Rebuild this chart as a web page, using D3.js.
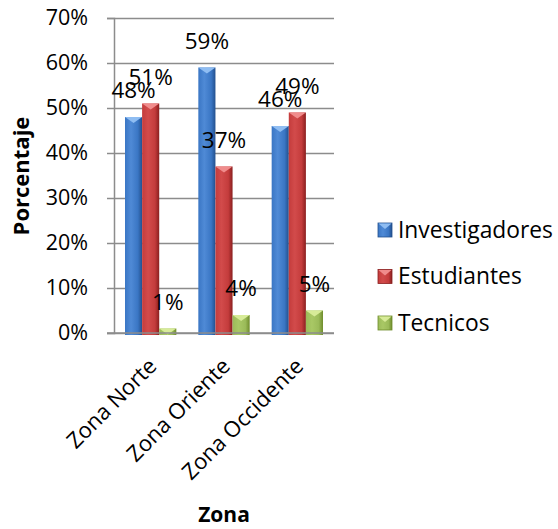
<!DOCTYPE html>
<html>
<head>
<meta charset="utf-8">
<script src="https://cdn.jsdelivr.net/npm/d3@7/dist/d3.min.js"></script>
<style>
  html, body { margin: 0; padding: 0; background: #ffffff; }
  svg { display: block; }
  text { font-family: "Open Sans", Carlito, Calibri, sans-serif; fill: #000; }
</style>
</head>
<body>
<script>
// Porcentaje por zona y tipo de participante
const zonas = ["Zona Norte", "Zona Oriente", "Zona Occidente"];
const series = ["Investigadores", "Estudiantes", "Tecnicos"];
const investigadores = [0.48, 0.59, 0.46];
const estudiantes = [0.51, 0.37, 0.49];
const tecnicos = [0.01, 0.04, 0.05];
const yTicks = [0, 0.1, 0.2, 0.3, 0.4, 0.5, 0.6, 0.7];

const valores = [investigadores, estudiantes, tecnicos];

const W = 558, H = 529;
const plot = { left: 114, right: 334, top: 18, bottom: 333 };
const FONT = "\"Open Sans\", Carlito, Calibri, sans-serif";

const svg = d3.select("body").append("svg").attr("width", W).attr("height", H);
const defs = svg.append("defs");

// Colores de cada serie: bordes oscuros, centro claro y tapa superior
const paleta = [
  { dark: "#23508e", mid: "#3a76c4", light: "#4f8ad6", cap: "#8fbdf2" },
  { dark: "#8a1f1f", mid: "#c43c3c", light: "#d24b4b", cap: "#f08c8c" },
  { dark: "#6f8c2c", mid: "#9bbb59", light: "#a9c865", cap: "#d7eb98" }
];
paleta.forEach((c, i) => {
  const g = defs.append("linearGradient").attr("id", "grad" + i)
    .attr("x1", "0%").attr("x2", "100%").attr("y1", "0%").attr("y2", "0%");
  g.append("stop").attr("offset", "0%").attr("stop-color", c.mid);
  g.append("stop").attr("offset", "35%").attr("stop-color", c.light);
  g.append("stop").attr("offset", "75%").attr("stop-color", c.mid);
  g.append("stop").attr("offset", "100%").attr("stop-color", c.dark);
});

const y = d3.scaleLinear().domain([0, 0.7]).range([plot.bottom, plot.top]);
const x0 = d3.scaleBand().domain(zonas).range([plot.left, plot.right])
  .paddingInner(0.3).paddingOuter(0.15);
const x1 = d3.scaleBand().domain(series).range([0, x0.bandwidth()]);

// Líneas de cuadrícula horizontales
svg.append("g")
  .attr("transform", `translate(${plot.left},0)`)
  .call(d3.axisLeft(y).tickValues(yTicks).tickSize(-(plot.right - plot.left)).tickFormat(""))
  .call(g => g.select(".domain").remove())
  .call(g => g.selectAll("line").attr("stroke", "#8c8c8c").attr("stroke-width", 1.5));

// Eje Y con marcas y etiquetas
svg.append("g")
  .attr("transform", `translate(${plot.left},0)`)
  .call(d3.axisLeft(y).tickValues(yTicks).tickSize(7).tickPadding(19).tickFormat(d3.format(".0%")))
  .call(g => g.select(".domain").attr("stroke", "#8c8c8c").attr("stroke-width", 1.5))
  .call(g => g.selectAll("line").attr("stroke", "#8c8c8c").attr("stroke-width", 1.5))
  .call(g => g.selectAll("text").attr("font-size", 21.5).attr("font-family", FONT).attr("fill", "#000"));

// Barras
const grupos = svg.append("g").selectAll("g")
  .data(zonas).join("g")
  .attr("transform", d => `translate(${x0(d)},0)`);

const barras = grupos.selectAll("g")
  .data((z, zi) => series.map((s, si) => ({ serie: s, si, valor: valores[si][zi] })))
  .join("g");

const cap = 6;
barras.append("rect")
  .attr("x", d => x1(d.serie))
  .attr("y", d => y(d.valor))
  .attr("width", x1.bandwidth())
  .attr("height", d => y(0) - y(d.valor) + 2)
  .attr("fill", d => `url(#grad${d.si})`);

// Tapa superior en bisel
barras.append("path")
  .attr("d", d => {
    const xl = x1(d.serie), xr = xl + x1.bandwidth(), xm = (xl + xr) / 2;
    const yt = y(d.valor);
    const h = Math.min(cap, (y(0) - yt) + 2);
    return `M${xl},${yt}L${xr},${yt}L${xm},${yt + h}Z`;
  })
  .attr("fill", d => paleta[d.si].cap);

// Eje X (línea base)
svg.append("line")
  .attr("x1", plot.left - 7).attr("x2", plot.right)
  .attr("y1", plot.bottom).attr("y2", plot.bottom)
  .attr("stroke", "#8c8c8c").attr("stroke-width", 1.5);

// Etiquetas de valor
barras.append("text")
  .attr("x", d => x1(d.serie) + x1.bandwidth() / 2)
  .attr("y", d => y(d.valor) - 19)
  .attr("text-anchor", "middle")
  .attr("font-size", 22.5)
  .text(d => d3.format(".0%")(d.valor));

// Etiquetas de categoría giradas
svg.append("g").selectAll("text")
  .data(zonas).join("text")
  .attr("transform", d => `translate(${x0(d) + x0.bandwidth() / 2 + 2},${plot.bottom + 29}) rotate(-45)`)
  .attr("text-anchor", "end")
  .attr("dy", "0.35em")
  .attr("font-size", 22)
  .text(d => d);

// Títulos de los ejes
svg.append("text")
  .attr("x", 224).attr("y", 522)
  .attr("text-anchor", "middle")
  .attr("font-size", 21).attr("font-weight", "bold")
  .text("Zona");

svg.append("text")
  .attr("transform", "translate(29,176) rotate(-90)")
  .attr("text-anchor", "middle")
  .attr("font-size", 22).attr("font-weight", "bold")
  .text("Porcentaje");

// Leyenda
const leyenda = svg.append("g").selectAll("g")
  .data(series).join("g")
  .attr("transform", (d, i) => `translate(378,${230 + i * 46.5})`);

leyenda.append("rect")
  .attr("x", 0).attr("y", -7).attr("width", 14).attr("height", 14)
  .attr("fill", (d, i) => `url(#grad${i})`)
  .attr("stroke", (d, i) => paleta[i].dark).attr("stroke-width", 0.8);
leyenda.append("path")
  .attr("d", "M0.5,-6.5L13.5,-6.5L7,-1Z")
  .attr("fill", (d, i) => paleta[i].cap);
leyenda.append("text")
  .attr("x", 20).attr("dy", "0.35em")
  .attr("font-size", 22.8)
  .text(d => d);
</script>
</body>
</html>
